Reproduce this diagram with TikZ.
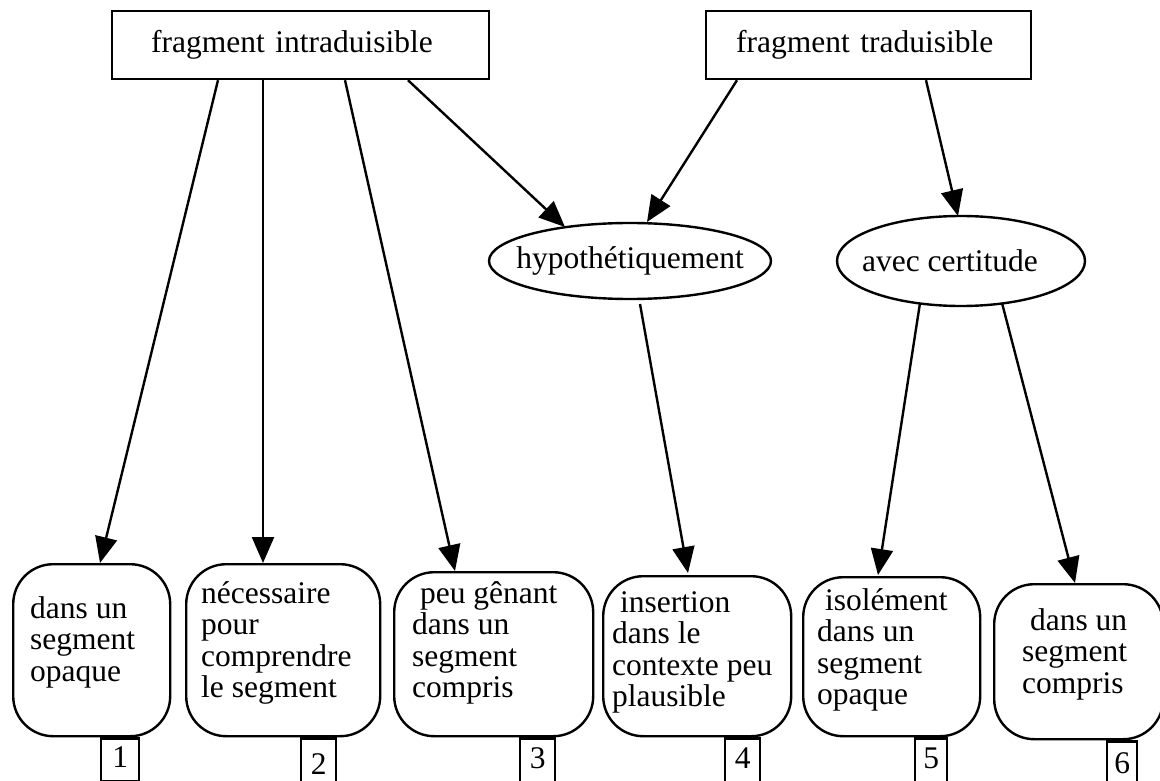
\documentclass[tikz,border=0pt]{standalone}
\usepackage{fontspec}
\setmainfont{Liberation Serif}
\usetikzlibrary{arrows.meta,shapes.geometric,calc}
\begin{document}
\begin{tikzpicture}[x=1pt,y=-1pt,
  every node/.style={font=\fontsize{31.5}{31.5}\selectfont},
  topbox/.style={draw, line width=2.4pt, minimum height=68pt, align=left, anchor=west},
  oval/.style={draw, ellipse, line width=2.4pt, inner sep=0pt},
  rbox/.style={draw, rounded corners=40pt, line width=2.4pt, inner sep=0pt, anchor=north west},
  txt/.style={align=left, inner sep=0pt, anchor=base west},
  numbox/.style={draw, line width=2.4pt, inner sep=0pt, anchor=north west, text height=21pt},
  arr/.style={line width=2.4pt, -{Triangle[length=26pt,width=22pt]}}]
\useasboundingbox (0,0) rectangle (1160,781);
% top boxes
\node[topbox, inner xsep=39pt, text width=299pt] (I) at (111,45) {fragment intraduisible};
\node[topbox, inner xsep=30pt, text width=265pt] (T) at (705,45) {fragment traduisible};
% ellipses
\node[oval, minimum width=282pt, minimum height=76pt] (H) at (630,261) {\makebox[0pt]{\raisebox{3pt}{hypothétiquement}}};
\node[oval, minimum width=248pt, minimum height=90pt] (V) at (961,261) {\makebox[0pt]{avec certitude\hspace*{22pt}}};
% rounded boxes
\node[rbox, minimum width=157pt, minimum height=172pt] (A) at (12,563) {};
\node[rbox, minimum width=194pt, minimum height=172pt] (B) at (185,563) {};
\node[rbox, minimum width=199pt, minimum height=164pt] (C) at (393,571) {};
\node[rbox, minimum width=188pt, minimum height=160pt] (D) at (602,575) {};
\node[rbox, minimum width=177pt, minimum height=159pt] (E) at (802,576) {};
\node[rbox, minimum width=169pt, minimum height=155pt] (F) at (993,583) {};
% texts in rounded boxes (anchored at the baseline of the last line)
\node[txt] (At) at (30,681) {dans un\\segment\\opaque};
\node[txt] (Bt) at (201,697.5) {nécessaire\\pour\\comprendre\\le segment};
\node[txt] (Ct) at (412,697.5) {\hspace*{0.25em}peu gênant\\dans un\\segment\\compris};
\node[txt] (Dt) at (612,706.5) {\hspace*{0.25em}insertion\\dans le\\contexte peu\\plausible};
\node[txt] (Et) at (817,704.5) {\hspace*{0.25em}isolément\\dans un\\segment\\opaque};
\node[txt] (Ft) at (1022,693) {\hspace*{0.25em}dans un\\segment\\compris};
% number boxes
\node[numbox, minimum width=38pt, minimum height=43pt, text depth=7pt] (n1) at ($(A.south west)+(88,0)$) {1};
\node[numbox, minimum width=35pt, minimum height=52pt, text depth=2pt] (n2) at ($(B.south west)+(115,0)$) {2};
\node[numbox, minimum width=35pt, minimum height=52pt, text depth=13pt] (n3) at ($(C.south west)+(126,0)$) {3};
\node[numbox, minimum width=35pt, minimum height=52pt, text depth=13pt] (n4) at ($(D.south west)+(122,0)$) {4};
\node[numbox, minimum width=32pt, minimum height=52pt, text depth=13pt] (n5) at ($(E.south west)+(112,0)$) {5};
\node[numbox, minimum width=30pt, minimum height=52pt, text depth=9pt] (n6) at ($(F.south west)+(113,0)$) {6};
% connectors
\draw[arr] ($(I.south west)+(107,0)$) -- ($(A.north west)+(88,0)$);
\draw[arr] ($(I.south west)+(152,0)$) -- ($(B.north west)+(78,0)$);
\draw[arr] ($(I.south west)+(234,0)$) -- ($(C.north west)+(62,0)$);
\draw[arr] ($(I.south west)+(297,0)$) -- ($(H.center)+(-65,-34)$);
\draw[arr] ($(T.south west)+(32,0)$) -- ($(H.center)+(17,-39)$);
\draw[arr] ($(T.south west)+(221,0)$) -- ($(V.center)+(-3,-45)$);
\draw[arr] ($(H.center)+(10,43)$) -- ($(D.north west)+(86,-2)$);
\draw[arr] ($(V.center)+(-41,42)$) -- ($(E.north west)+(76,-1)$);
\draw[arr] ($(V.center)+(41,42)$) -- ($(F.north west)+(82,0)$);
\end{tikzpicture}
\end{document}
